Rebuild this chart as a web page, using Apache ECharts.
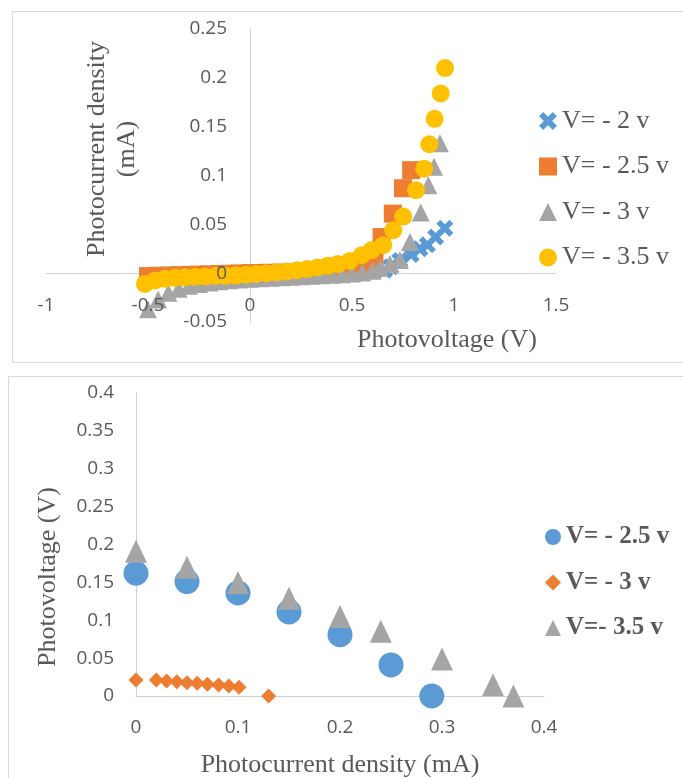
<!DOCTYPE html>
<html><head><meta charset="utf-8">
<script src="https://cdn.jsdelivr.net/npm/echarts@6/dist/echarts.min.js"></script>
<style>
html,body{margin:0;padding:0;background:#fff;}
#top{position:absolute;left:0;top:0;width:683px;height:370px;}
#bot{position:absolute;left:0;top:370px;width:683px;height:408px;}
</style>
</head><body><div id="top"></div><div id="bot"></div>
<script>
// ---------- Top chart data (Photovoltage V vs Photocurrent density mA) ----------
const topNames = ['V= - 2 v', 'V= - 2.5 v', 'V= - 3 v', 'V= - 3.5 v'];
const topXTicks = [-1, -0.5, 0, 0.5, 1, 1.5];
const topYTicks = [-0.05, 0, 0.05, 0.1, 0.15, 0.2, 0.25];

const v2X = [-0.5,-0.45,-0.4,-0.35,-0.3,-0.25,-0.2,-0.15,-0.1,-0.05,0,0.05,0.1,0.15,0.2,0.25,0.3,0.35,0.4,0.45,0.5,0.55,0.6,0.66,0.69,0.735,0.79,0.833,0.87,0.91,0.955];
const v2Y = [-0.004,-0.0035,-0.003,-0.0027,-0.0024,-0.0021,-0.0018,-0.0015,-0.0012,-0.001,-0.0008,-0.0006,-0.0004,-0.0002,0,0.0002,0.0004,0.0006,0.0008,0.001,0.0013,0.0016,0.002,0.003,0.0065,0.013,0.019,0.025,0.029,0.037,0.046];

const v25X = [-0.5,-0.45,-0.4,-0.35,-0.3,-0.25,-0.2,-0.15,-0.1,-0.05,0,0.05,0.1,0.15,0.2,0.25,0.3,0.35,0.4,0.45,0.5,0.55,0.61,0.645,0.70,0.75,0.79];
const v25Y = [-0.003,-0.0027,-0.0024,-0.0021,-0.0018,-0.0015,-0.0012,-0.0009,-0.0006,-0.0003,0,0.0002,0.0004,0.0006,0.0009,0.0012,0.0016,0.0021,0.0028,0.0036,0.0048,0.0075,0.014,0.037,0.061,0.087,0.1055];

const v3X = [-0.5,-0.45,-0.4,-0.35,-0.3,-0.25,-0.2,-0.15,-0.1,-0.05,0,0.05,0.1,0.15,0.2,0.25,0.3,0.35,0.4,0.45,0.5,0.55,0.6,0.637,0.686,0.735,0.784,0.837,0.874,0.902,0.931];
const v3Y = [-0.037,-0.027,-0.02,-0.016,-0.013,-0.011,-0.0095,-0.0083,-0.0073,-0.0065,-0.0058,-0.0052,-0.0047,-0.0042,-0.0037,-0.0032,-0.0027,-0.0022,-0.0016,-0.001,-0.0003,0.0006,0.0025,0.0055,0.0093,0.0135,0.032,0.062,0.09,0.109,0.133];

const v35X = [-0.515,-0.466,-0.417,-0.368,-0.32,-0.27,-0.22,-0.17,-0.12,-0.07,-0.02,0.03,0.08,0.13,0.18,0.23,0.28,0.33,0.38,0.43,0.49,0.548,0.597,0.653,0.702,0.751,0.814,0.854,0.879,0.905,0.935,0.956];
const v35Y = [-0.011,-0.0075,-0.0058,-0.0048,-0.0042,-0.0037,-0.0033,-0.003,-0.0027,-0.0022,-0.0015,-0.0008,0,0.0008,0.0018,0.003,0.0043,0.0058,0.0075,0.0093,0.0125,0.0184,0.0236,0.0287,0.044,0.058,0.085,0.107,0.132,0.158,0.184,0.21];

// ---------- Bottom chart data (Photocurrent density mA vs Photovoltage V) ----------
const botNames = ['V= - 2.5 v', 'V= - 3 v', 'V=- 3.5 v'];
const botXTicks = [0, 0.1, 0.2, 0.3, 0.4];
const botYTicks = [0, 0.05, 0.1, 0.15, 0.2, 0.25, 0.3, 0.35, 0.4];

const b25X = [0, 0.05, 0.1, 0.15, 0.2, 0.25, 0.29];
const b25Y = [0.162, 0.151, 0.136, 0.111, 0.081, 0.041, 0];
const b3X = [0, 0.02, 0.03, 0.04, 0.05, 0.06, 0.07, 0.081, 0.091, 0.101, 0.13];
const b3Y = [0.021, 0.021, 0.0198, 0.0189, 0.0176, 0.0168, 0.0155, 0.0145, 0.0132, 0.0115, 0];
const b35X = [0, 0.05, 0.1, 0.15, 0.2, 0.24, 0.3, 0.35, 0.37];
const b35Y = [0.191, 0.17, 0.15, 0.129, 0.105, 0.0855, 0.0487, 0.015, 0];

// ---------- helpers ----------
const zip = (xs, ys) => xs.map((x, i) => [x, ys[i]]);
const BLUE = '#5B9BD5', ORANGE = '#ED7D31', GRAY = '#A5A5A5', YELLOW = '#FFC000';
const TXT = '#595959', AXIS = '#D0D0D0';
const SERIF = '"Liberation Serif", "Times New Roman", serif';
const SANS = '"Open Sans", sans-serif';
const CROSS = 'path://M0,2.3 L2.3,0 L5,2.7 L7.7,0 L10,2.3 L7.3,5 L10,7.7 L7.7,10 L5,7.3 L2.3,10 L0,7.7 L2.7,5 Z';

function valAxis(min, max, interval, margin, offset, opts) {
  opts = opts || {};
  return {
    type: 'value', min: min, max: max, interval: interval, offset: offset || 0,
    position: opts.position, z: opts.z || 0,
    axisLine: { show: opts.line !== false, onZero: false, lineStyle: { color: AXIS, width: 1 } },
    axisTick: { show: false },
    splitLine: { show: false },
    axisLabel: { show: opts.labels !== false, margin: margin, color: TXT, fontFamily: SANS, fontSize: 19,
                 hideOverlap: false, showMinLabel: true, showMaxLabel: true }
  };
}
function tText(x, y, text, font, rot) {
  return { type: 'text', x: x, y: y, rotation: rot || 0, silent: true,
    style: { text: text, font: font, fill: TXT, align: 'center', verticalAlign: 'middle',
             textAlign: 'center', textVerticalAlign: 'middle' } };
}
function sc(name, data, symbol, size, color) {
  return { name: name, type: 'scatter', data: data, symbol: symbol, symbolSize: size,
    itemStyle: { color: color, opacity: 1 }, emphasis: { disabled: true } };
}

// ---------- Top chart ----------
const TG = { left: 46, top: 29, width: 510, height: 293 };
const txMin = topXTicks[0], txMax = topXTicks[topXTicks.length - 1];
const tyMin = topYTicks[0], tyMax = topYTicks[topYTicks.length - 1];
// place the axes through the origin (Excel-style crossing at zero)
const yAxisOffset = -(0 - txMin) / (txMax - txMin) * TG.width;
const xAxisOffset = -(0 - tyMin) / (tyMax - tyMin) * TG.height;

const topChart = echarts.init(document.getElementById('top'), null, { renderer: 'canvas' });
topChart.setOption({
  animation: false,
  backgroundColor: '#fff',
  grid: Object.assign({ containLabel: false, outerBoundsMode: 'none' }, TG),
  xAxis: [
    valAxis(txMin, txMax, 0.5, 23, xAxisOffset, { labels: false, position: 'bottom' }),
    valAxis(txMin, txMax, 0.5, 23, xAxisOffset, { line: false, z: 10, position: 'bottom' })
  ],
  yAxis: [
    valAxis(tyMin, tyMax, 0.05, 23, yAxisOffset, { labels: false, position: 'left' }),
    valAxis(tyMin, tyMax, 0.05, 23, yAxisOffset, { line: false, z: 10, position: 'left' })
  ],
  legend: {
    orient: 'vertical', left: 534, top: 103, itemWidth: 18, itemHeight: 18, itemGap: 19.5,
    textStyle: { fontFamily: SERIF, fontSize: 26, color: TXT, lineHeight: 26 },
    data: topNames, selectedMode: false
  },
  graphic: [
    { type: 'rect', silent: true, shape: { x: 12.5, y: 11.5, width: 700, height: 351 },
      style: { fill: 'none', stroke: '#D9D9D9', lineWidth: 1 } },
    tText(97, 149, 'Photocurrent density', '26px ' + SERIF, Math.PI / 2),
    tText(127, 149, '(mA)', '26px ' + SERIF, Math.PI / 2),
    tText(447, 340, 'Photovoltage (V)', '26px ' + SERIF)
  ],
  series: [
    sc(topNames[0], zip(v2X, v2Y), CROSS, 17, BLUE),
    sc(topNames[1], zip(v25X, v25Y), 'rect', 18, ORANGE),
    sc(topNames[2], zip(v3X, v3Y), 'triangle', 18, GRAY),
    sc(topNames[3], zip(v35X, v35Y), 'circle', 18, YELLOW)
  ]
});

// ---------- Bottom chart ----------
const botChart = echarts.init(document.getElementById('bot'), null, { renderer: 'canvas' });
botChart.setOption({
  animation: false,
  backgroundColor: '#fff',
  grid: { left: 136, top: 23, width: 408, height: 303, containLabel: false, outerBoundsMode: 'none' },
  xAxis: valAxis(botXTicks[0], botXTicks[botXTicks.length - 1], 0.1, 22, 0, { position: 'bottom' }),
  yAxis: valAxis(botYTicks[0], botYTicks[botYTicks.length - 1], 0.05, 22, 0, { position: 'left' }),
  legend: {
    orient: 'vertical', left: 540, top: 149, itemWidth: 16, itemHeight: 16, itemGap: 19.5,
    textStyle: { fontFamily: SERIF, fontSize: 25, fontWeight: 'bold', color: TXT, lineHeight: 26 },
    data: botNames, selectedMode: false
  },
  graphic: [
    { type: 'rect', silent: true, shape: { x: 8.5, y: 6.5, width: 700, height: 500 },
      style: { fill: 'none', stroke: '#D9D9D9', lineWidth: 1 } },
    tText(48, 207, 'Photovoltage (V)', '26px ' + SERIF, Math.PI / 2),
    tText(340, 395, 'Photocurrent density (mA)', '26px ' + SERIF)
  ],
  series: [
    sc(botNames[0], zip(b25X, b25Y), 'circle', 25, BLUE),
    sc(botNames[1], zip(b3X, b3Y), 'diamond', 15, ORANGE),
    sc(botNames[2], zip(b35X, b35Y), 'triangle', [22, 23], GRAY)
  ]
});
</script></body></html>
